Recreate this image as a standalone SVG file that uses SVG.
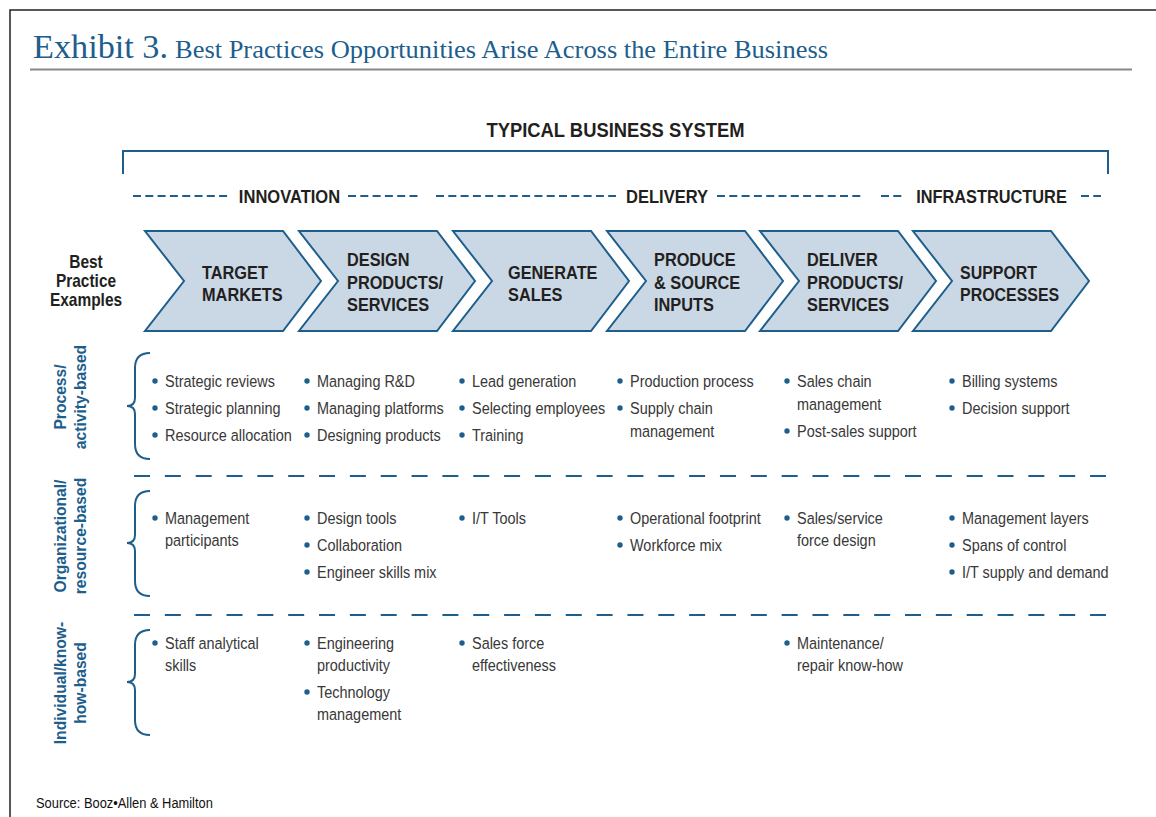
<svg xmlns="http://www.w3.org/2000/svg" width="1156" height="817" viewBox="0 0 1156 817">
<defs>
<style>
.frame{stroke:#222;stroke-width:1.5;fill:none}
.blue{stroke:#1d5e8c;fill:none}
.chev{fill:#cad8e6;stroke:#1d5e8c;stroke-width:2}
.cond{font-family:'Liberation Sans',Arial,sans-serif}
.ttl{font-family:'Liberation Serif','Times New Roman',serif;fill:#1d5e8c}
.hdr{font-family:'Liberation Sans',Arial,sans-serif;font-weight:bold;fill:#231f20}
.chevt{font-family:'Liberation Sans',Arial,sans-serif;font-weight:bold;font-size:19px;fill:#231f20}
.rowl{font-family:'Liberation Sans',Arial,sans-serif;font-weight:bold;font-size:17px;fill:#1d5e8c}
.bt{font-family:'Liberation Sans',Arial,sans-serif;font-size:17px;fill:#383838}
.dot{fill:#1d5e8c}
.sdash{stroke:#1d5e8c;stroke-width:2;stroke-dasharray:8 4.3;fill:none}
.ldash{stroke:#1d5e8c;stroke-width:2;stroke-dasharray:16 14.84;fill:none}
.brace{stroke:#1d5e8c;stroke-width:2;fill:none}
</style>
</defs>
<rect x="0" y="0" width="1156" height="817" fill="#fff"/>
<path class="frame" d="M10,817 V10 H1156"/>
<g id="title">
<text class="ttl" x="33" y="58" font-size="34" textLength="135" lengthAdjust="spacingAndGlyphs">Exhibit 3.</text>
<text class="ttl" x="175" y="58" font-size="26" textLength="653" lengthAdjust="spacingAndGlyphs">Best Practices Opportunities Arise Across the Entire Business</text>
<line x1="30" y1="69.5" x2="1132" y2="69.5" stroke="#888" stroke-width="2"/>
</g>
<g id="system-header">
<text class="hdr" transform="translate(615.5 137) scale(0.92 1)" x="0" y="0" font-size="20" text-anchor="middle">TYPICAL BUSINESS SYSTEM</text>
<path class="blue" stroke-width="2" d="M123,174 V151 H1108 V174"/>
</g>
<g id="phases">
<line class="sdash" x1="133" y1="196" x2="230" y2="196"/>
<text class="hdr" transform="translate(289.5 203) scale(0.87 1)" x="0" y="0" font-size="19" text-anchor="middle">INNOVATION</text>
<line class="sdash" x1="348" y1="196" x2="418" y2="196"/>
<line class="sdash" x1="436" y1="196" x2="616" y2="196"/>
<text class="hdr" transform="translate(667 203) scale(0.87 1)" x="0" y="0" font-size="19" text-anchor="middle">DELIVERY</text>
<line class="sdash" x1="717" y1="196" x2="861" y2="196"/>
<line class="sdash" x1="881" y1="196" x2="902" y2="196"/>
<text class="hdr" transform="translate(991.5 203) scale(0.86 1)" x="0" y="0" font-size="19" text-anchor="middle">INFRASTRUCTURE</text>
<line class="sdash" x1="1081" y1="196" x2="1101" y2="196"/>
</g>
<g id="best-practice-label">
<text class="hdr" font-size="18" text-anchor="middle" transform="translate(86 0) scale(0.86 1)"><tspan x="0" y="268">Best</tspan><tspan x="0" y="287">Practice</tspan><tspan x="0" y="306">Examples</tspan></text>
</g>
<g id="chev-target">
<path class="chev" d="M145,231 H283 L321,281 L283,331 H145 L184,281 Z"/>
<text class="chevt" transform="translate(202 0) scale(0.86 1)"><tspan x="0" y="279">TARGET</tspan><tspan x="0" y="301">MARKETS</tspan></text>
</g>
<g id="chev-design">
<path class="chev" d="M299,231 H437 L475,281 L437,331 H299 L338,281 Z"/>
<text class="chevt" transform="translate(347 0) scale(0.86 1)"><tspan x="0" y="266">DESIGN</tspan><tspan x="0" y="289">PRODUCTS/</tspan><tspan x="0" y="311">SERVICES</tspan></text>
</g>
<g id="chev-generate">
<path class="chev" d="M453,231 H591 L629,281 L591,331 H453 L492,281 Z"/>
<text class="chevt" transform="translate(508 0) scale(0.86 1)"><tspan x="0" y="279">GENERATE</tspan><tspan x="0" y="301">SALES</tspan></text>
</g>
<g id="chev-produce">
<path class="chev" d="M607,231 H745 L783,281 L745,331 H607 L646,281 Z"/>
<text class="chevt" transform="translate(654 0) scale(0.86 1)"><tspan x="0" y="266">PRODUCE</tspan><tspan x="0" y="289">&amp; SOURCE</tspan><tspan x="0" y="311">INPUTS</tspan></text>
</g>
<g id="chev-deliver">
<path class="chev" d="M760,231 H898 L936,281 L898,331 H760 L799,281 Z"/>
<text class="chevt" transform="translate(807 0) scale(0.86 1)"><tspan x="0" y="266">DELIVER</tspan><tspan x="0" y="289">PRODUCTS/</tspan><tspan x="0" y="311">SERVICES</tspan></text>
</g>
<g id="chev-support">
<path class="chev" d="M913,231 H1051 L1089,281 L1051,331 H913 L952,281 Z"/>
<text class="chevt" transform="translate(960 0) scale(0.84 1)"><tspan x="0" y="279">SUPPORT</tspan><tspan x="0" y="301">PROCESSES</tspan></text>
</g>
<g id="separators">
<line class="ldash" x1="134" y1="476" x2="1106" y2="476"/>
<line class="ldash" x1="134" y1="615" x2="1106" y2="615"/>
</g>
<g id="row-process">
<text class="rowl" text-anchor="middle" transform="translate(66,397) rotate(-90) scale(0.92 1)"><tspan x="0" y="0">Process/</tspan><tspan x="0" y="20">activity-based</tspan></text>
<path class="brace" d="M150,353 Q135,353 135,368 V398 Q135,406 127,406 Q135,406 135,414 V444 Q135,459 150,459"/>
<g class="dot"><circle cx="155" cy="381" r="2.7"/><circle cx="155" cy="408" r="2.7"/><circle cx="155" cy="435" r="2.7"/>
<circle cx="307" cy="381" r="2.7"/><circle cx="307" cy="408" r="2.7"/><circle cx="307" cy="435" r="2.7"/>
<circle cx="462" cy="381" r="2.7"/><circle cx="462" cy="408" r="2.7"/><circle cx="462" cy="435" r="2.7"/>
<circle cx="620" cy="381" r="2.7"/><circle cx="620" cy="408" r="2.7"/>
<circle cx="787" cy="381" r="2.7"/><circle cx="787" cy="431" r="2.7"/>
<circle cx="952" cy="381" r="2.7"/><circle cx="952" cy="408" r="2.7"/></g>
<text class="bt" transform="translate(165 0) scale(0.85 1)"><tspan x="0" y="387">Strategic reviews</tspan><tspan x="0" y="414">Strategic planning</tspan><tspan x="0" y="441">Resource allocation</tspan></text>
<text class="bt" transform="translate(317 0) scale(0.85 1)"><tspan x="0" y="387">Managing R&amp;D</tspan><tspan x="0" y="414">Managing platforms</tspan><tspan x="0" y="441">Designing products</tspan></text>
<text class="bt" transform="translate(472 0) scale(0.85 1)"><tspan x="0" y="387">Lead generation</tspan><tspan x="0" y="414">Selecting employees</tspan><tspan x="0" y="441">Training</tspan></text>
<text class="bt" transform="translate(630 0) scale(0.85 1)"><tspan x="0" y="387">Production process</tspan><tspan x="0" y="414">Supply chain</tspan><tspan x="0" y="437">management</tspan></text>
<text class="bt" transform="translate(797 0) scale(0.85 1)"><tspan x="0" y="387">Sales chain</tspan><tspan x="0" y="410">management</tspan><tspan x="0" y="437">Post-sales support</tspan></text>
<text class="bt" transform="translate(962 0) scale(0.85 1)"><tspan x="0" y="387">Billing systems</tspan><tspan x="0" y="414">Decision support</tspan></text>
</g>
<g id="row-organizational">
<text class="rowl" text-anchor="middle" transform="translate(66,536) rotate(-90) scale(0.92 1)"><tspan x="0" y="0">Organizational/</tspan><tspan x="0" y="20">resource-based</tspan></text>
<path class="brace" d="M150,491 Q135,491 135,506 V535 Q135,543 127,543 Q135,543 135,551 V581 Q135,596 150,596"/>
<g class="dot"><circle cx="155" cy="518" r="2.7"/>
<circle cx="307" cy="518" r="2.7"/><circle cx="307" cy="545" r="2.7"/><circle cx="307" cy="572" r="2.7"/>
<circle cx="462" cy="518" r="2.7"/>
<circle cx="620" cy="518" r="2.7"/><circle cx="620" cy="545" r="2.7"/>
<circle cx="787" cy="518" r="2.7"/>
<circle cx="952" cy="518" r="2.7"/><circle cx="952" cy="545" r="2.7"/><circle cx="952" cy="572" r="2.7"/></g>
<text class="bt" transform="translate(165 0) scale(0.85 1)"><tspan x="0" y="524">Management</tspan><tspan x="0" y="546">participants</tspan></text>
<text class="bt" transform="translate(317 0) scale(0.85 1)"><tspan x="0" y="524">Design tools</tspan><tspan x="0" y="551">Collaboration</tspan><tspan x="0" y="578">Engineer skills mix</tspan></text>
<text class="bt" transform="translate(472 0) scale(0.85 1)"><tspan x="0" y="524">I/T Tools</tspan></text>
<text class="bt" transform="translate(630 0) scale(0.85 1)"><tspan x="0" y="524">Operational footprint</tspan><tspan x="0" y="551">Workforce mix</tspan></text>
<text class="bt" transform="translate(797 0) scale(0.85 1)"><tspan x="0" y="524">Sales/service</tspan><tspan x="0" y="546">force design</tspan></text>
<text class="bt" transform="translate(962 0) scale(0.85 1)"><tspan x="0" y="524">Management layers</tspan><tspan x="0" y="551">Spans of control</tspan><tspan x="0" y="578">I/T supply and demand</tspan></text>
</g>
<g id="row-individual">
<text class="rowl" text-anchor="middle" transform="translate(66,683) rotate(-90) scale(0.92 1)"><tspan x="0" y="0">Individual/know-</tspan><tspan x="0" y="20">how-based</tspan></text>
<path class="brace" d="M150,630 Q135,630 135,645 V674 Q135,682 127,682 Q135,682 135,690 V720 Q135,735 150,735"/>
<g class="dot"><circle cx="155" cy="643" r="2.7"/>
<circle cx="307" cy="643" r="2.7"/><circle cx="307" cy="692" r="2.7"/>
<circle cx="462" cy="643" r="2.7"/>
<circle cx="787" cy="643" r="2.7"/></g>
<text class="bt" transform="translate(165 0) scale(0.85 1)"><tspan x="0" y="649">Staff analytical</tspan><tspan x="0" y="671">skills</tspan></text>
<text class="bt" transform="translate(317 0) scale(0.85 1)"><tspan x="0" y="649">Engineering</tspan><tspan x="0" y="671">productivity</tspan><tspan x="0" y="698">Technology</tspan><tspan x="0" y="720">management</tspan></text>
<text class="bt" transform="translate(472 0) scale(0.85 1)"><tspan x="0" y="649">Sales force</tspan><tspan x="0" y="671">effectiveness</tspan></text>
<text class="bt" transform="translate(797 0) scale(0.85 1)"><tspan x="0" y="649">Maintenance/</tspan><tspan x="0" y="671">repair know-how</tspan></text>
</g>
<g id="source">
<text class="cond" transform="translate(36 808) scale(0.92 1)" x="0" y="0" font-size="14" fill="#111">Source: Booz•Allen &amp; Hamilton</text>
</g>
</svg>
